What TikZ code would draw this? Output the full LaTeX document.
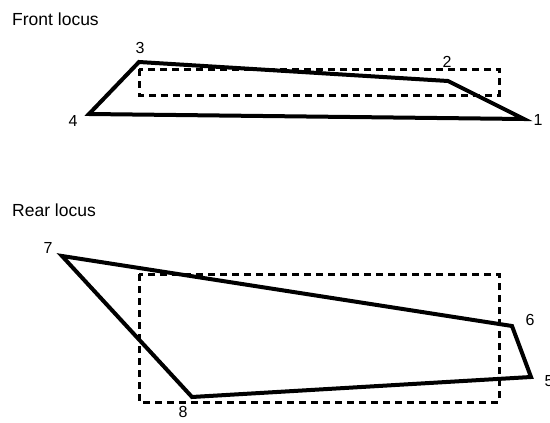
\documentclass[tikz,border=0pt]{standalone}
\usepackage{fontspec}
\setmainfont{Liberation Sans}
\begin{document}
\begin{tikzpicture}[x=1pt,y=-1pt,
  locus/.style={line width=4pt,line join=miter},
  bbox/.style={line width=3pt,dash pattern=on 7pt off 5pt},
  lbl/.style={font=\fontsize{16}{16}\selectfont,inner sep=0pt},
  ttl/.style={font=\fontsize{17.5}{17.5}\selectfont,inner sep=0pt,anchor=base west}]
\useasboundingbox (0,0) rectangle (550,423);
% titles
\node[ttl] (tf) at (12,25) {Front locus};
\node[ttl] (tr) at (12,216) {Rear locus};
% front locus
\coordinate (p1) at (524,119);
\coordinate (p2) at (448,81);
\coordinate (p3) at (139,62);
\coordinate (p4) at (89,114);
\draw[bbox] (139,69) rectangle (499,95);
\draw[locus] (p1) -- (p2) -- (p3) -- (p4) -- cycle;
\node[lbl] (l1) at (538,120) {1};
\node[lbl] (l2) at (447,62) {2};
\node[lbl] (l3) at (140,48) {3};
\node[lbl] (l4) at (73,121) {4};
% rear locus
\coordinate (p5) at (531,377);
\coordinate (p6) at (512,326);
\coordinate (p7) at (62,256);
\coordinate (p8) at (192,397);
\draw[bbox] (139,274) rectangle (499,402);
\draw[locus] (p5) -- (p6) -- (p7) -- (p8) -- cycle;
\node[lbl] (l5) at (549,381) {5};
\node[lbl] (l6) at (530,320) {6};
\node[lbl] (l7) at (48,248) {7};
\node[lbl] (l8) at (183,412) {8};
\end{tikzpicture}
\end{document}
